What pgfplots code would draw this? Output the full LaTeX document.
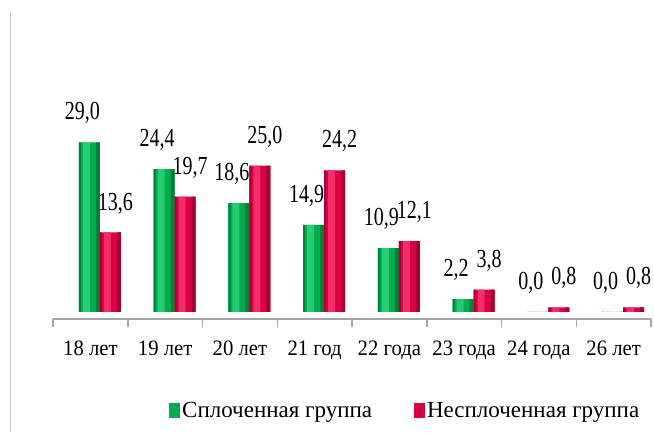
\documentclass[border=0pt]{standalone}
\usepackage{fontspec}
\setmainfont{Liberation Serif}
\newfontfamily\valfont{Liberation Serif}[FakeStretch=0.77]
\newfontfamily\tickfont{Liberation Serif}[FakeStretch=0.94]
\usepackage{pgfplots}
\pgfplotsset{compat=1.18}
\definecolor{cgreen}{RGB}{0,172,78}
\definecolor{cgreenD}{RGB}{0,128,56}
\definecolor{cgreenL}{RGB}{40,205,115}
\definecolor{cred}{RGB}{218,0,70}
\definecolor{credD}{RGB}{168,0,50}
\definecolor{credL}{RGB}{242,45,105}
\pgfplotsset{/pgf/number format/assume math mode=true}
\pgfplotstableread{
x g r
0 29.0 13.6
1 24.4 19.7
2 18.6 25.0
3 14.9 24.2
4 10.9 12.1
5 2.2 3.8
6 0.0 0.8
7 0.0 0.8
}\datatable
\begin{document}
\begin{tikzpicture}
\useasboundingbox (0,0) rectangle (654pt,432pt);
\draw[gray!45, line width=0.8pt] (10pt,0) -- (10pt,419pt);
\begin{axis}[
 at={(53pt,113pt)}, anchor=south west,
 scale only axis, width=598pt, height=211.8pt,
 xmin=-0.5, xmax=7.5, ymin=-1.2, ymax=35,
 axis x line*=bottom, axis y line=none,
 axis line style={gray!70, line width=1.5pt},
 xtick={0,...,7},
 xticklabels={18 лет,19 лет,20 лет,21 год,22 года,23 года,24 года,26 лет},
 major tick length=0pt,
 minor xtick={-0.5,0.5,...,7.5},
 minor tick length=8pt, tick align=outside,
 minor tick style={gray!70, line width=1.5pt},
 xticklabel style={font=\tickfont\fontsize{22}{25}\selectfont, yshift=-18pt},
 ybar=0pt, bar width=21pt,
 nodes near coords style={font=\valfont\fontsize{26}{28}\selectfont, anchor=center, yshift=29pt,
   /pgf/number format/use comma, /pgf/number format/fixed,
   /pgf/number format/fixed zerofill, /pgf/number format/precision=1},
 legend style={at={(0.589,-0.432)}, anchor=center, draw=none, legend columns=2,
   font=\fontsize{23}{26}\selectfont,
   /tikz/every even column/.append style={column sep=40pt}},
]
% green series
\addplot[draw=none, fill=cgreen, bar shift=-1pt, nodes near coords,
  every node near coord/.append style={xshift=-7pt},
  legend image code/.code={\fill[cgreen] (0pt,-7.5pt) rectangle (11pt,7.5pt);}]
 table[x=x, y=g] {\datatable};
\addlegendentry{Сплоченная группа}
% red series
\addplot[draw=none, fill=cred, bar shift=20pt, nodes near coords,
  every node near coord/.append style={xshift=5pt},
  legend image code/.code={\fill[cred] (0pt,-7.5pt) rectangle (11pt,7.5pt);}]
 table[x=x, y=r] {\datatable};
\addlegendentry{Несплоченная группа}
% cylinder highlights and shaded edges
\addplot[forget plot, draw=none, fill=cgreenL, bar width=7pt, bar shift=-4pt] table[x=x, y=g] {\datatable};
\addplot[forget plot, draw=none, fill=cgreenD, bar width=4pt, bar shift=7.5pt] table[x=x, y=g] {\datatable};
\addplot[forget plot, draw=none, fill=cgreenD, bar width=2pt, bar shift=-10.5pt] table[x=x, y=g] {\datatable};
\addplot[forget plot, draw=none, fill=credL, bar width=7pt, bar shift=17pt] table[x=x, y=r] {\datatable};
\addplot[forget plot, draw=none, fill=credD, bar width=4pt, bar shift=28.5pt] table[x=x, y=r] {\datatable};
\addplot[forget plot, draw=none, fill=credD, bar width=2pt, bar shift=10.5pt] table[x=x, y=r] {\datatable};
\end{axis}
\end{tikzpicture}
\end{document}
